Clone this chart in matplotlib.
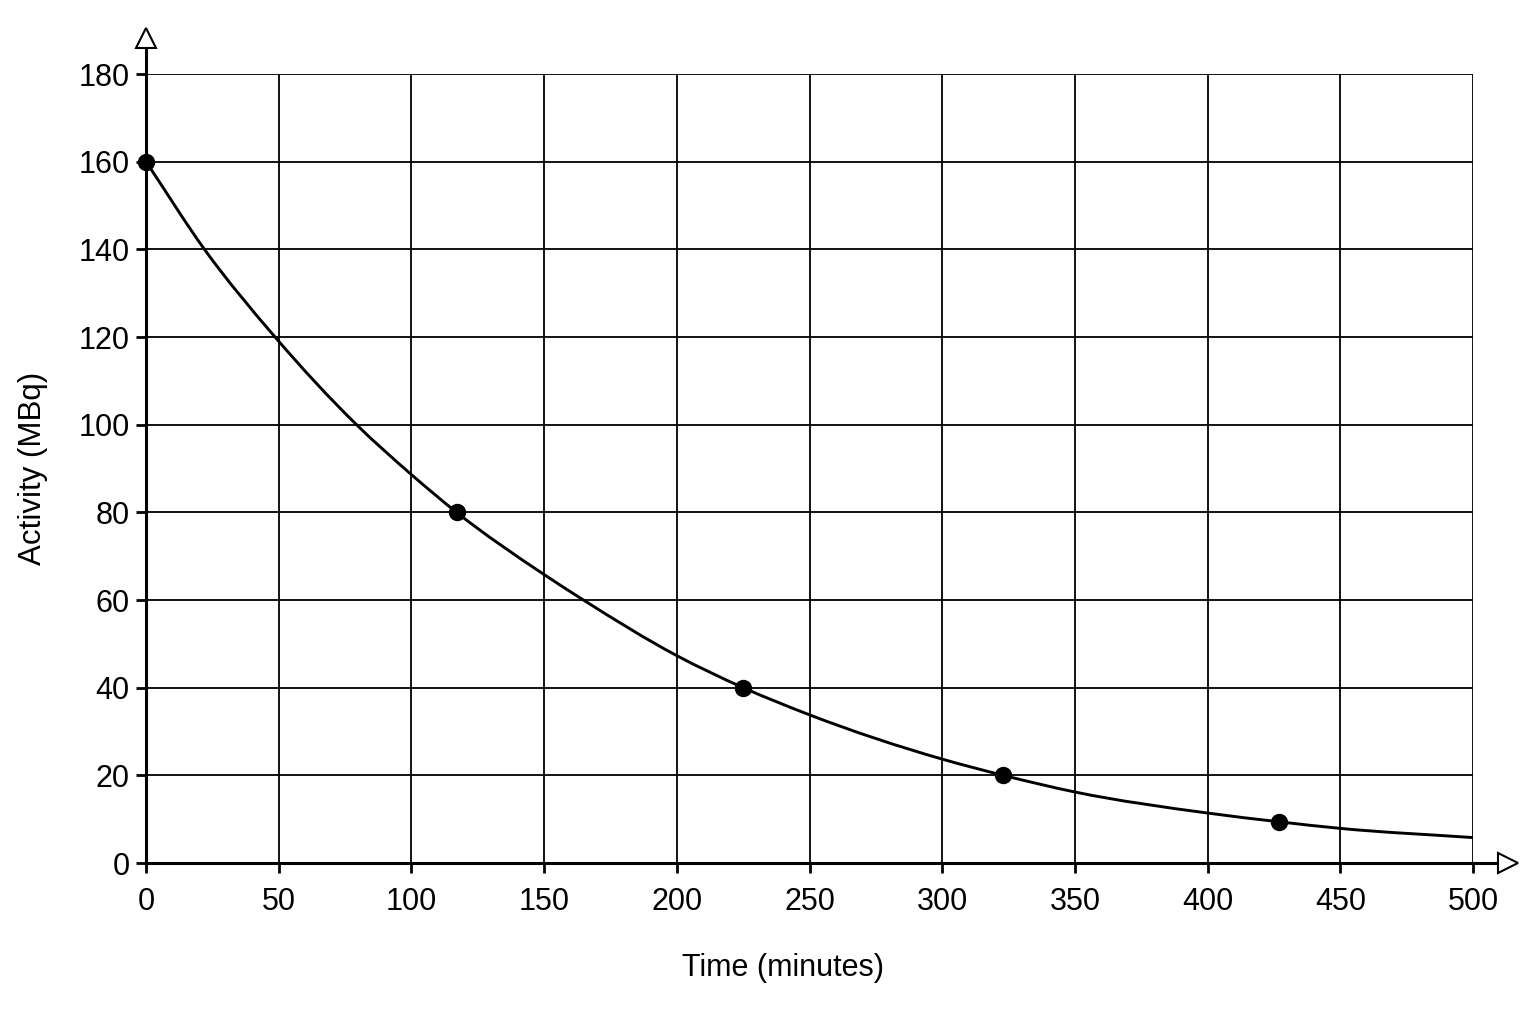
import numpy as np
import matplotlib
matplotlib.use('Agg')
import matplotlib.pyplot as plt
from matplotlib.path import Path
from matplotlib.patches import PathPatch

plt.rcParams['font.family'] = ['Liberation Sans Narrow', 'Liberation Sans', 'DejaVu Sans']

# measured points (minutes, MBq)
point_t = [0, 117, 225, 323, 427]
point_a = [160, 80, 40, 20, 9.4]

# decay curve
curve_t = [0, 22, 48.6, 79.3, 100, 117, 150, 164.8, 200, 225, 250, 300, 323, 350, 400, 427, 450, 500]
curve_a = [160, 140, 120, 100, 88.6, 80, 65.8, 60, 47.3, 40, 33.8, 23.7, 20, 16.2, 11.4, 9.4, 7.9, 5.8]

x_ticks = [0, 50, 100, 150, 200, 250, 300, 350, 400, 450, 500]
y_ticks = [0, 20, 40, 60, 80, 100, 120, 140, 160, 180]


def smooth_path(xs, ys):
    # cubic Hermite segments written as Bezier curves
    xs = np.asarray(xs, float)
    ys = np.asarray(ys, float)
    n = len(xs)
    m = np.zeros(n)
    for i in range(n):
        if i == 0:
            m[i] = (ys[1] - ys[0]) / (xs[1] - xs[0])
        elif i == n - 1:
            m[i] = (ys[-1] - ys[-2]) / (xs[-1] - xs[-2])
        else:
            h0 = xs[i] - xs[i - 1]
            h1 = xs[i + 1] - xs[i]
            d0 = (ys[i] - ys[i - 1]) / h0
            d1 = (ys[i + 1] - ys[i]) / h1
            m[i] = (h1 * d0 + h0 * d1) / (h0 + h1)
    verts = [(xs[0], ys[0])]
    codes = [Path.MOVETO]
    for i in range(n - 1):
        h = xs[i + 1] - xs[i]
        verts += [(xs[i] + h / 3, ys[i] + m[i] * h / 3),
                  (xs[i + 1] - h / 3, ys[i + 1] - m[i + 1] * h / 3),
                  (xs[i + 1], ys[i + 1])]
        codes += [Path.CURVE4] * 3
    return Path(verts, codes)


fig = plt.figure(figsize=(15.36, 10.24), dpi=100)
ax = fig.add_axes([0.0951, 0.1572, 0.8640, 0.7705])

ax.set_xlim(0, 500)
ax.set_ylim(0, 180)
ax.set_xticks(x_ticks)
ax.set_yticks(y_ticks)

ax.grid(True, color='black', lw=1.3)
ax.set_axisbelow(True)
for s in ['top', 'right']:
    ax.spines[s].set_visible(False)
for s in ['left', 'bottom']:
    ax.spines[s].set_linewidth(2.2)
    ax.spines[s].set_zorder(4)

ax.tick_params(axis='both', direction='out', length=7, width=2.0, labelsize=22)
ax.tick_params(axis='x', pad=10)
ax.tick_params(axis='y', pad=5)

ax.add_patch(PathPatch(smooth_path(curve_t, curve_a), fill=False, ec='black', lw=2.1, zorder=3))
ax.plot(point_t, point_a, 'o', color='black', ms=11.5, zorder=5, clip_on=False)

# axis extensions with open arrow heads
ax.plot([0, 0], [1, 1.045], color='black', lw=2.2, transform=ax.transAxes, clip_on=False)
ax.plot([0], [1.046], marker='^', ms=15, mfc='white', mec='black', mew=1.5,
        transform=ax.transAxes, clip_on=False, zorder=6)
ax.plot([1, 1.025], [0, 0], color='black', lw=2.2, transform=ax.transAxes, clip_on=False)
ax.plot([1.0265], [0], marker='>', ms=15, mfc='white', mec='black', mew=1.5,
        transform=ax.transAxes, clip_on=False, zorder=6)

ax.set_xlabel('Time (minutes)', fontsize=22, labelpad=26)
ax.xaxis.label.set_x(0.48)
ax.set_ylabel('Activity (MBq)', fontsize=22.5, labelpad=22)

fig.savefig('out.png', dpi=100, facecolor='white')
